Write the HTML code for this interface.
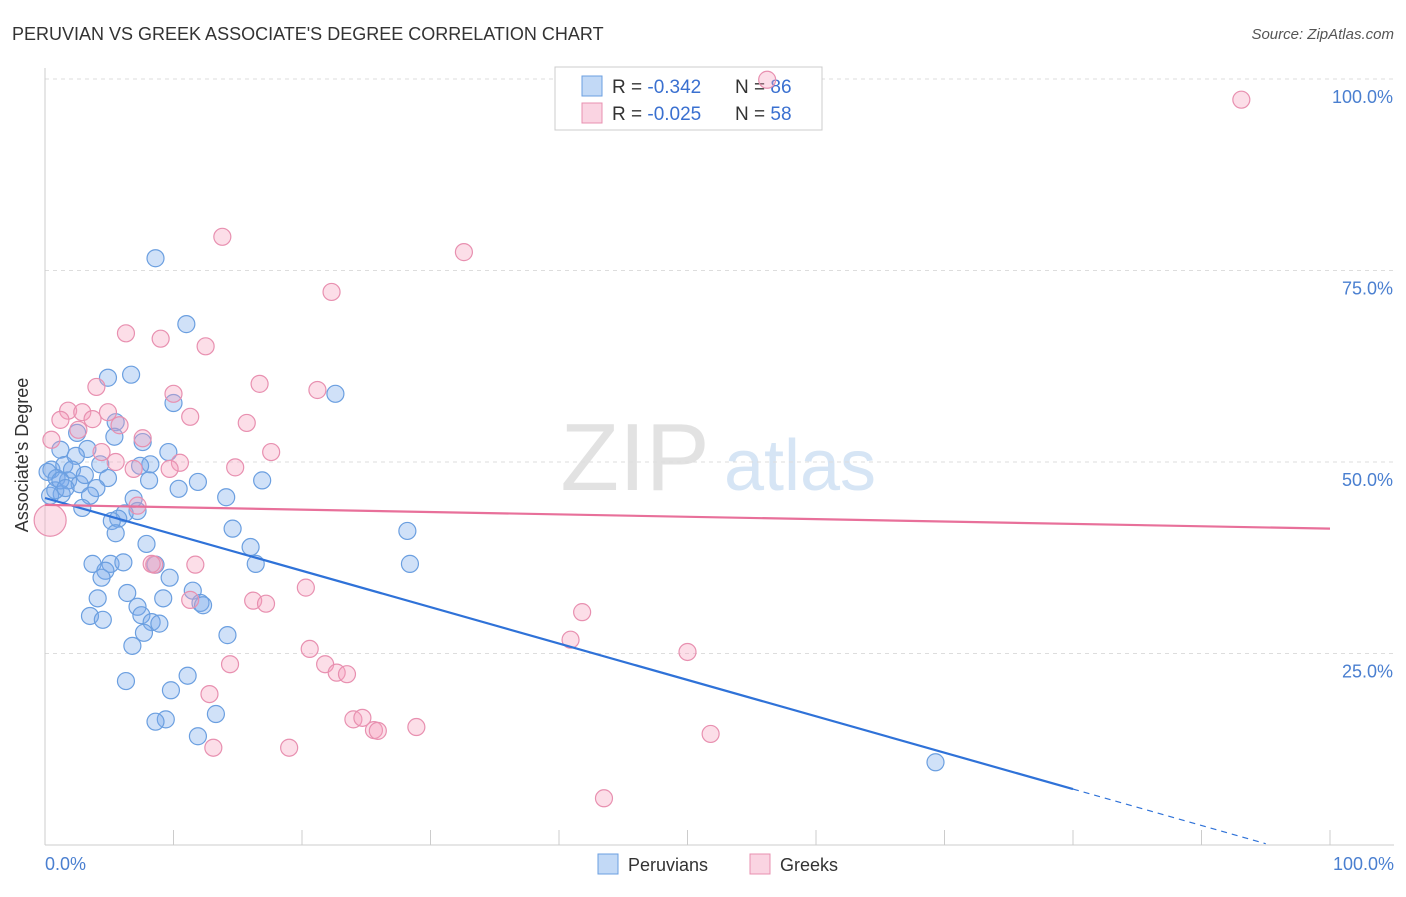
<!DOCTYPE html>
<html><head><meta charset="utf-8"><style>
body{margin:0;background:#fff;font-family:"Liberation Sans",sans-serif}
svg text{font-family:"Liberation Sans",sans-serif}
</style></head><body>
<svg id="chart" width="1406" height="892" xmlns="http://www.w3.org/2000/svg">
<text x="12" y="40" font-size="18" fill="#333">PERUVIAN VS GREEK ASSOCIATE'S DEGREE CORRELATION CHART</text>
<text x="1394" y="39" font-size="15" fill="#555" font-style="italic" text-anchor="end">Source: ZipAtlas.com</text>
<g>
<text x="635" y="490" font-size="96" fill="#e2e2e2" font-family="Liberation Serif" text-anchor="middle">ZIP</text>
<text x="800" y="490" font-size="72" fill="#d6e5f5" text-anchor="middle">atlas</text>
</g>
<g id="grid"></g>
<g id="axes"></g>
<g>
<rect x="555" y="67" width="267" height="63" fill="#fff" stroke="#ccc"/>
<rect x="582" y="76" width="20" height="20" fill="rgba(120,170,235,0.45)" stroke="#6b9fe0"/>
<rect x="582" y="103" width="20" height="20" fill="rgba(245,160,190,0.45)" stroke="#e890b0"/>
<text x="612" y="93" font-size="19" fill="#333">R = <tspan fill="#3a70d0">-0.342</tspan></text>
<text x="735" y="93" font-size="19" fill="#333">N = <tspan fill="#3a70d0">86</tspan></text>
<text x="612" y="120" font-size="19" fill="#333">R = <tspan fill="#3a70d0">-0.025</tspan></text>
<text x="735" y="120" font-size="19" fill="#333">N = <tspan fill="#3a70d0">58</tspan></text>
</g>
<g id="marks"></g>
<text x="28" y="455" font-size="18" fill="#333" text-anchor="middle" transform="rotate(-90 28 455)">Associate's Degree</text>
<text x="45" y="870" font-size="18" fill="#4a7fd0">0.0%</text>
<text x="1394" y="870" font-size="18" fill="#4a7fd0" text-anchor="end">100.0%</text>
<g>
<rect x="598" y="854" width="20" height="20" fill="rgba(120,170,235,0.45)" stroke="#6b9fe0"/>
<text x="628" y="871" font-size="18" fill="#333">Peruvians</text>
<rect x="750" y="854" width="20" height="20" fill="rgba(245,160,190,0.45)" stroke="#e890b0"/>
<text x="780" y="871" font-size="18" fill="#333">Greeks</text>
</g>
</svg>
<script>
const blueX=[8.6,11.0,22.6,6.7,4.9,10.0,5.5,7.6,2.5,3.3,5.4,9.6,1.2,0.5,1.5,2.4,4.3,8.2,7.4,4.9,8.1,11.9,10.4,16.9,14.1,0.2,0.9,1.8,2.7,4.0,3.5,1.3,0.4,6.9,2.9,7.2,6.2,5.7,5.2,14.6,28.2,5.5,7.9,16.0,16.4,28.4,3.7,5.1,6.1,4.7,4.4,8.6,9.7,11.5,6.4,4.1,9.2,7.2,12.1,12.3,7.5,8.3,3.5,4.5,8.9,7.7,14.2,6.8,11.1,6.3,9.8,13.3,9.4,8.6,11.9,69.3,0.8,2.1,1.2,1.6,3.1];
const blueY=[76.6,68.0,58.9,61.4,61.0,57.7,55.2,52.6,53.8,51.7,53.3,51.3,51.6,49.0,49.6,50.8,49.7,49.7,49.5,47.9,47.6,47.4,46.5,47.6,45.4,48.7,47.9,47.6,47.1,46.6,45.6,45.8,45.6,45.2,44.0,43.6,43.3,42.6,42.3,41.3,41.0,40.7,39.3,38.9,36.7,36.7,36.7,36.7,36.9,35.8,34.9,36.6,34.9,33.2,32.9,32.2,32.2,31.1,31.6,31.3,30.0,29.1,29.9,29.4,28.9,27.7,27.4,26.0,22.1,21.4,20.2,17.1,16.4,16.1,14.2,10.8,46.3,49.0,47.6,46.6,48.3];
const pinkX=[56.2,93.1,13.8,32.6,22.3,6.3,9.0,12.5,16.7,4.0,21.2,10.0,11.3,15.7,1.8,2.9,1.2,3.7,4.9,5.8,0.5,2.6,7.6,17.6,4.4,5.5,10.5,6.9,9.7,14.8,7.2,0.4,8.5,11.7,20.3,11.3,16.2,17.2,41.8,40.9,20.6,50.0,21.8,14.4,22.7,23.5,12.8,24.0,24.7,25.6,25.9,28.9,51.8,13.1,19.0,43.5,8.3];
const pinkY=[99.9,97.3,79.4,77.4,72.2,66.8,66.1,65.1,60.2,59.8,59.4,58.9,55.9,55.1,56.7,56.5,55.5,55.6,56.5,54.8,52.9,54.2,53.1,51.3,51.3,50.0,49.9,49.1,49.1,49.3,44.3,42.4,36.6,36.6,33.6,32.0,31.9,31.5,30.4,26.8,25.6,25.2,23.6,23.6,22.5,22.3,19.7,16.4,16.6,15.0,14.9,15.4,14.5,12.7,12.7,6.1,36.7];
const pinkBig=[31];
const yTicks=[25,50,75,100];
const yTickLabels=["25.0%","50.0%","75.0%","100.0%"];
const xTicks=[0,10,20,30,40,50,60,70,80,90,100];
const blueTrend=[45.3,-0.475];
const pinkTrend=[44.4,-0.031];
const blueSolidEnd=80;

const NS="http://www.w3.org/2000/svg";
const sx=v=>45+v*12.85;
const sy=v=>845-v*7.66;
function mk(tag,attrs,parent){const e=document.createElementNS(NS,tag);for(const k in attrs)e.setAttribute(k,attrs[k]);document.getElementById(parent).appendChild(e);return e;}
yTicks.forEach((t,i)=>{
  const l=mk('line',{x1:45,x2:1394,y1:sy(t),y2:sy(t),stroke:'#ddd','stroke-dasharray':'4,4'},'grid');
  
  
  const tx=mk('text',{x:1393,y:sy(t)+24,'font-size':18,fill:'#4a7fd0','text-anchor':'end'},'grid');
  tx.textContent=yTickLabels[i];
  
  
});
const ax=mk('line',{x1:45,x2:1394,y1:845,y2:845,stroke:'#ccc'},'axes');


const ay=mk('line',{x1:45,x2:45,y1:68,y2:845,stroke:'#ccc'},'axes');


xTicks.forEach(t=>{
  const l=mk('line',{x1:sx(t),x2:sx(t),y1:830,y2:845,stroke:'#ccc'},'axes');
  
  
});
blueX.forEach((x,i)=>{
  const c=mk('circle',{cx:sx(x),cy:sy(blueY[i]),r:8.5,fill:'rgba(120,170,235,0.35)',stroke:'#6b9fe0','stroke-width':1.2},'marks');
  
  
});
pinkX.forEach((x,i)=>{
  const c=mk('circle',{cx:sx(x),cy:sy(pinkY[i]),r:pinkBig.includes(i)?16:8.5,fill:'rgba(245,160,190,0.35)',stroke:'#e890b0','stroke-width':1.2},'marks');
  
  
});
const bt=v=>blueTrend[0]+blueTrend[1]*v;
const b1=mk('line',{x1:sx(0),y1:sy(bt(0)),x2:sx(blueSolidEnd),y2:sy(bt(blueSolidEnd)),stroke:'#2f72d8','stroke-width':2.2},'marks');


const b2=mk('line',{x1:sx(blueSolidEnd),y1:sy(bt(blueSolidEnd)),x2:sx(95),y2:sy(bt(95)),stroke:'#2f72d8','stroke-width':1.2,'stroke-dasharray':'6,5'},'marks');


const pt=v=>pinkTrend[0]+pinkTrend[1]*v;
const p1=mk('line',{x1:sx(0),y1:sy(pt(0)),x2:sx(100),y2:sy(pt(100)),stroke:'#e8709a','stroke-width':2.2},'marks');


</script>
</body></html>
